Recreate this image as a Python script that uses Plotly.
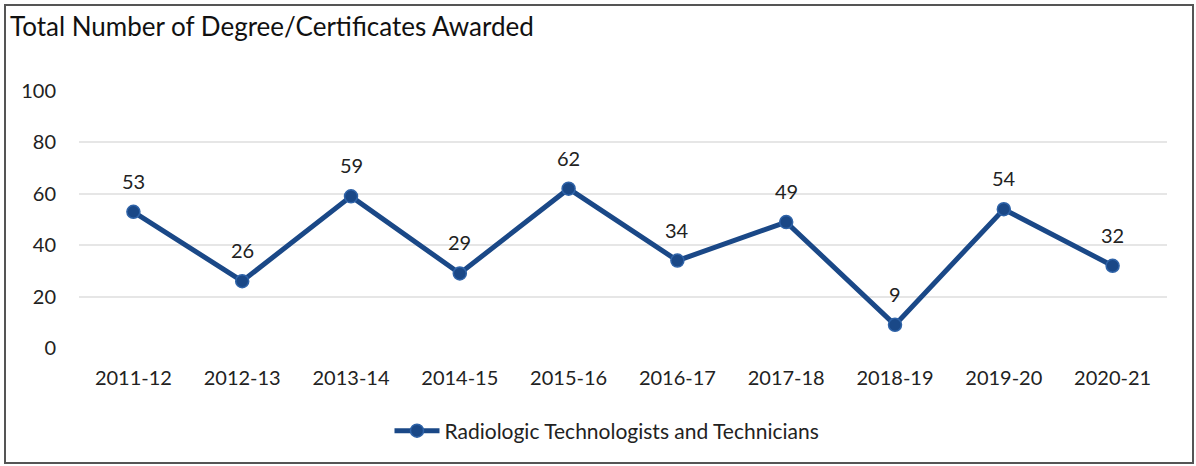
import plotly.graph_objects as go

# academic years and awards
years = ["2011-12", "2012-13", "2013-14", "2014-15", "2015-16",
         "2016-17", "2017-18", "2018-19", "2019-20", "2020-21"]
awards = [53, 26, 59, 29, 62, 34, 49, 9, 54, 32]
series_name = "Radiologic Technologists and Technicians"
y_ticks = [0, 20, 40, 60, 80, 100]

W, H = 1196, 466
ml, mr, mt, mb = 79, 29, 91, 118
blue = "#1a4887"
txt = "#222222"

fig = go.Figure()
fig.add_trace(go.Scatter(
    x=years, y=awards, name=series_name,
    mode="lines+markers",
    line=dict(color=blue, width=5),
    marker=dict(size=13, color=blue, line=dict(color="#2f63a8", width=1.5)),
    cliponaxis=False,
))

# value labels above each point
for yr, v in zip(years, awards):
    fig.add_annotation(x=yr, y=v, text=str(v), showarrow=False,
                       yshift=31, font=dict(size=20, color=txt))

# outer frame in pixel terms
pw, ph = W - ml - mr, H - mt - mb
fig.add_shape(type="rect", xref="paper", yref="paper",
              x0=(5 - ml) / pw, x1=(1193 - ml) / pw,
              y0=-(463 - mt - ph) / ph, y1=(H - 5 - mb) / ph,
              line=dict(color="#555555", width=2), layer="below")

fig.update_layout(
    width=W, height=H,
    margin=dict(l=ml, r=mr, t=mt, b=mb),
    paper_bgcolor="white", plot_bgcolor="white",
    font=dict(family="Lato", size=20, color=txt),
    title=dict(text="Total Number of Degree/Certificates Awarded",
               x=0, xref="container", xanchor="left", pad=dict(l=10),
               y=1 - 27 / H, yanchor="middle",
               font=dict(size=26, color="#111111")),
    showlegend=True,
    legend=dict(orientation="h", x=(598 + 9 - ml) / pw, xanchor="center",
                y=-(431 - mt - ph) / ph, yanchor="middle",
                itemwidth=45, font=dict(size=21)),
    xaxis=dict(type="category", range=[-0.5, 9.5], showgrid=False,
               ticks="", showline=False, ticklabelstandoff=16,
               tickfont=dict(size=20)),
    yaxis=dict(range=[0, 100], tickvals=y_ticks, showgrid=True,
               gridcolor="#e6e6e6", gridwidth=1.5, zeroline=False,
               ticks="", ticklabelstandoff=22, tickfont=dict(size=20)),
)

fig.write_html("out.html", config={"displayModeBar": False},
               post_script="document.body.style.margin='0';")
